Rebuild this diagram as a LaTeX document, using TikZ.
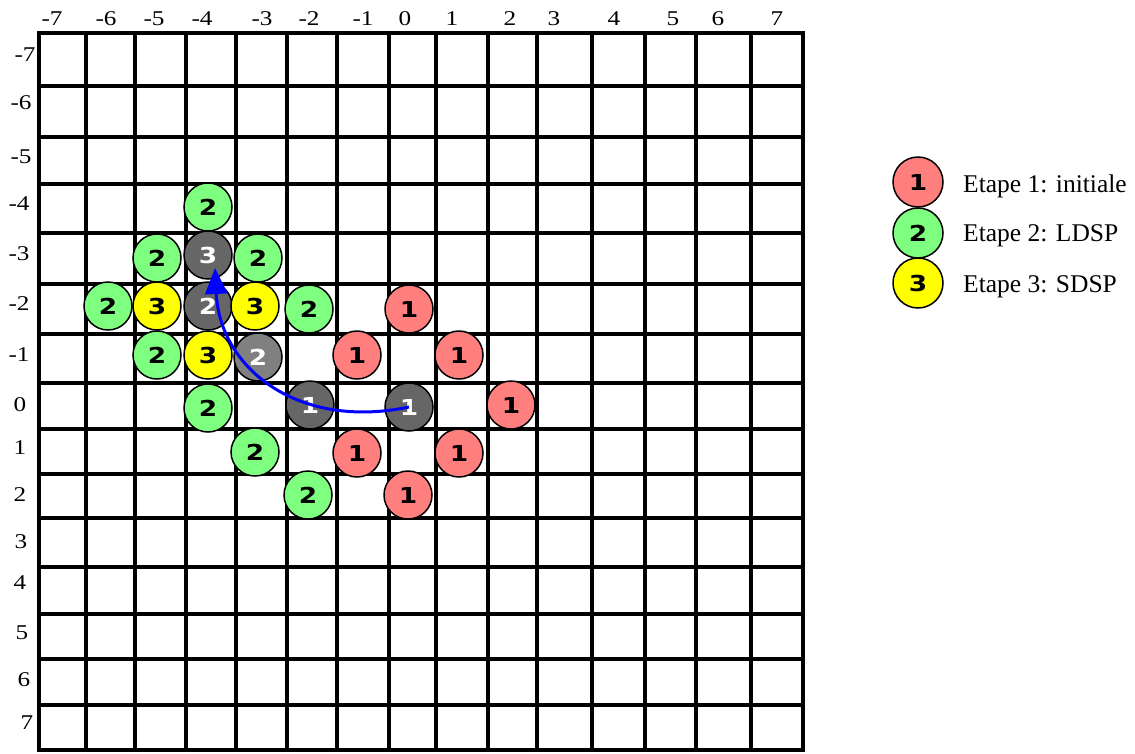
\documentclass[tikz,border=0pt]{standalone}
\usepackage{graphicx}
\usepackage{fontspec}
\setmainfont{Liberation Serif}
\newfontfamily\numfont{DejaVu Sans}
\usetikzlibrary{arrows.meta}
\definecolor{cred}{HTML}{FF7F7F}
\definecolor{cgreen}{HTML}{7FFF7F}
\definecolor{cyellow}{HTML}{FFFF00}
\definecolor{cdark}{HTML}{666666}
\definecolor{cmid}{HTML}{808080}
\definecolor{cblue}{HTML}{0000FF}
\newcommand\hsc[1]{\scalebox{1.2}[1]{#1}}
\newcommand\nsc[1]{\scalebox{1.2}[1]{#1}}
\begin{document}
\begin{tikzpicture}[x=1pt,y=-1pt,
  gridline/.style={line width=3.7pt, line cap=rect},
  dot/.style={circle, draw=black, line width=1.5pt, minimum size=48pt, inner sep=0pt,
    font=\numfont\bfseries\fontsize{22}{22}\selectfont},
  sA/.style={dot, fill=cred, text=black},
  sB/.style={dot, fill=cgreen, text=black},
  sC/.style={dot, fill=cyellow, text=black},
  sD/.style={dot, fill=cdark, text=white},
  sM/.style={dot, fill=cmid, text=white},
  axis/.style={font=\fontsize{21}{21}\selectfont, inner sep=0pt},
  legtext/.style={font=\fontsize{25.5}{25.5}\selectfont, anchor=base west, inner sep=0pt},
  arrowline/.style={draw=cblue, line width=3pt, -{Triangle[length=26pt,width=22pt]}}
]
\useasboundingbox (0,0) rectangle (1135,753);
\fill[white] (0,0) rectangle (1135,753);
% grid
\foreach \x in {39,86,135,186,236,287,337,389,436,488,537,592,645,696,751,803}
  \draw[gridline] (\x,33) -- (\x,750);
\foreach \y in {33,86,137,184,233,284,334,383,429,474,518,567,614,659,705,750}
  \draw[gridline] (39,\y) -- (803,\y);
% column labels
\foreach \x/\t [count=\i] in {52/-7,106/-6,154/-5,202/-4,262/-3,309/-2,363/-1,405/0,452/1,510/2,554/3,614/4,673/5,718/6,777/7}
  \node[axis, name=col\i] at (\x,19) {\hsc{\t}};
% row labels
\foreach \x/\y/\t [count=\i] in {25/55/-7,21/103/-6,21/157/-5,19/204/-4,19/254/-3,19/304/-2,19/355/-1,20/405/0,20/448/1,20/495/2,21/542/3,20/583/4,22/633/5,24/680/6,27/723/7}
  \node[axis, name=row\i] at (\x,\y) {\hsc{\t}};
% step 1
\node[sA] (a1) at (409,309) {\nsc{1}};
\node[sA] (a2) at (357,355) {\nsc{1}};
\node[sA] (a3) at (459,355) {\nsc{1}};
\node[sA] (a4) at (511,405) {\nsc{1}};
\node[sA] (a5) at (357,453) {\nsc{1}};
\node[sA] (a6) at (459,453) {\nsc{1}};
\node[sA] (a7) at (408,495) {\nsc{1}};
\node[sD] (d0) at (409,407) {\nsc{1}};
\node[sD] (d1) at (310,405) {\nsc{1}};
% step 2
\node[sB] (b1) at (208,207) {\nsc{2}};
\node[sB] (b2) at (157,258) {\nsc{2}};
\node[sB] (b3) at (258,258) {\nsc{2}};
\node[sB] (b4) at (108,306) {\nsc{2}};
\node[sB] (b5) at (309,309) {\nsc{2}};
\node[sB] (b6) at (157,355) {\nsc{2}};
\node[sB] (b7) at (208,408) {\nsc{2}};
\node[sB] (b8) at (255,452) {\nsc{2}};
\node[sB] (b9) at (308,495) {\nsc{2}};
\node[sD] (d2) at (208,306) {\nsc{2}};
\node[sM] (m2) at (258,357) {\nsc{2}};
% step 3
\node[sC] (c1) at (157,306) {\nsc{3}};
\node[sC] (c2) at (255,306) {\nsc{3}};
\node[sC] (c3) at (208,355) {\nsc{3}};
\node[sD] (d3) at (208,255) {\nsc{3}};
% arrow
\coordinate (tip) at (215,268);
\draw[arrowline] (d0.center) .. controls (300,430) and (220,370) .. (tip);
% legend
\node[sA, minimum size=50pt] (l1) at (918,182) {\nsc{1}};
\node[sB, minimum size=50pt] (l2) at (918,233) {\nsc{2}};
\node[sC, minimum size=50pt] (l3) at (918,283) {\nsc{3}};
\node[legtext] (t1) at (963,192) {Etape 1: initiale};
\node[legtext] (t2) at (963,241) {Etape 2: LDSP};
\node[legtext] (t3) at (963,292) {Etape 3: SDSP};
\end{tikzpicture}
\end{document}
